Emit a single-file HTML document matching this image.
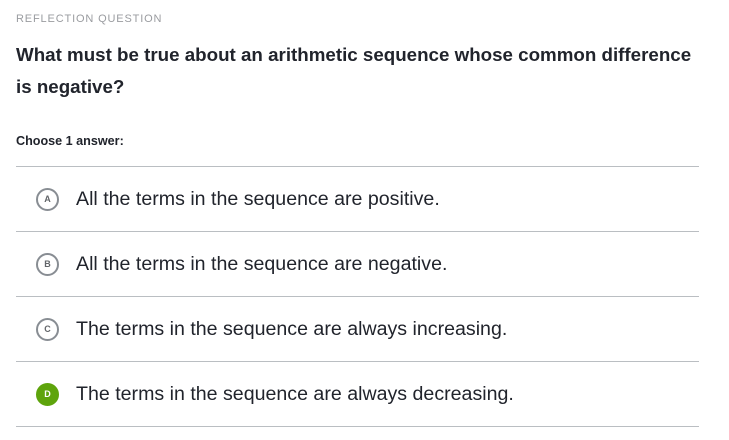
<!DOCTYPE html>
<html><head><meta charset="utf-8"><style>
body{margin:0;width:729px;height:440px;background:#fff;font-family:"Liberation Sans",sans-serif;color:#21242c;position:relative;overflow:hidden}
.abs{position:absolute;white-space:nowrap}
.lbl{left:16px;top:13px;font-size:11px;color:#9a9ca0;letter-spacing:0.85px}
.q{left:16px;font-size:18.75px;font-weight:bold;line-height:22px}
.choose{left:16px;top:134px;font-size:12.6px;font-weight:bold}
.hr{position:absolute;left:16px;width:683px;height:1px;background:#babec2}
.circ{position:absolute;left:36px;width:19px;height:19px;border:2px solid #888d93;border-radius:50%;font-size:9px;font-weight:bold;color:#626569;text-align:center;line-height:19px}
.circ.on{background:#5ea40c;border-color:#5ea40c;color:#fff}
.ans{left:76px;font-size:19.6px;line-height:22px}
</style></head><body>
<div class="abs lbl">REFLECTION QUESTION</div>
<div class="abs q" style="top:44px">What must be true about an arithmetic sequence whose common difference</div>
<div class="abs q" style="top:76px">is negative?</div>
<div class="abs choose">Choose 1 answer:</div>
<div class="hr" style="top:166px"></div>
<div><div class="circ" style="top:188px">A</div><div class="abs ans" style="top:188px">All the terms in the sequence are positive.</div></div>
<div class="hr" style="top:231px"></div>
<div><div class="circ" style="top:253px">B</div><div class="abs ans" style="top:253px">All the terms in the sequence are negative.</div></div>
<div class="hr" style="top:296px"></div>
<div><div class="circ" style="top:318px">C</div><div class="abs ans" style="top:318px">The terms in the sequence are always increasing.</div></div>
<div class="hr" style="top:361px"></div>
<div><div class="circ on" style="top:383px">D</div><div class="abs ans" style="top:383px">The terms in the sequence are always decreasing.</div></div>
<div class="hr" style="top:426px"></div>
</body></html>
